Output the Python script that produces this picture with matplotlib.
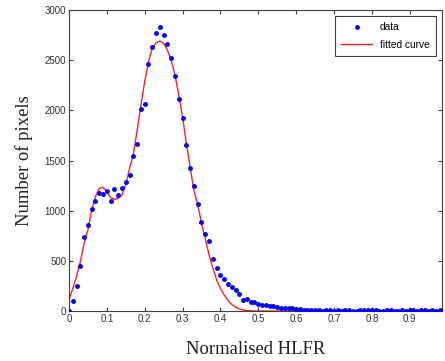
import matplotlib
matplotlib.use("Agg")
import matplotlib.pyplot as plt

# histogram values, bins of 0.01 from 0 to 0.98
hlfr = [i / 100 for i in range(99)]
counts = [0, 95, 250, 445, 740, 860, 1015, 1100, 1180, 1165,
          1200, 1100, 1215, 1160, 1225, 1285, 1355, 1550, 1670, 2010,
          2060, 2465, 2630, 2770, 2835, 2755, 2665, 2525, 2345, 2110,
          1920, 1655, 1430, 1250, 1065, 890, 770, 700, 515, 425,
          360, 320, 265, 235, 210, 170, 110, 120, 93, 93,
          70, 55, 62, 45, 48, 38, 30, 28, 25, 27,
          22, 20, 12, 8, 10, 6, 8, 5, 12, 6,
          4, 8, 3, 6, 10, 5, 4, 7, 12, 8,
          6, 10, 5, 4, 7, 10, 5, 3, 6, 4,
          8, 6, 3, 10, 7, 5, 8, 4, 6]

# fitted curve read at the same positions
fitted = [110, 226, 342, 492, 674, 807, 1007, 1140, 1223, 1233,
          1190, 1133, 1113, 1123, 1156, 1260, 1420, 1560, 1800, 2053,
          2286, 2485, 2618, 2674, 2691, 2668, 2601, 2502, 2352, 2153,
          1937, 1671, 1438, 1200, 1060, 880, 720, 560, 430, 310,
          225, 160, 105, 65, 38, 20, 10, 5, 2, 0] + [0] * 49

xticks = [0, 0.1, 0.2, 0.3, 0.4, 0.5, 0.6, 0.7, 0.8, 0.9]
xticklabels = ["0", "0.1", "0.2", "0.3", "0.4", "0.5", "0.6", "0.7", "0.8", "0.9"]
yticks = [0, 500, 1000, 1500, 2000, 2500, 3000]

fig = plt.figure(figsize=(4.45, 3.61), dpi=100)
ax = fig.add_axes([0.155, 0.1385, 0.838, 0.8335])

ax.plot(hlfr, counts, ".", color="#0000ff", markersize=5, label="data", zorder=3)
ax.plot(hlfr, fitted, "-", color="#ff2020", linewidth=1, label="fitted curve", zorder=2)

ax.set_xlim(0, 0.985)
ax.set_ylim(0, 3000)
ax.set_xticks(xticks)
ax.set_xticklabels(xticklabels)
ax.set_yticks(yticks)
ax.tick_params(direction="in", length=3, width=0.8, top=True, right=True,
               labelsize=7, labelcolor="#303030", colors="#404040", pad=2)
for lab in ax.get_xticklabels() + ax.get_yticklabels():
    lab.set_family("Liberation Sans")
for s in ax.spines.values():
    s.set_color("#404040")
    s.set_linewidth(0.8)

ax.set_xlabel("Normalised HLFR", family="Liberation Serif", fontsize=13.4, color="#202020")
ax.set_ylabel("Number of pixels", family="Liberation Serif", fontsize=13.4, color="#202020")
ax.xaxis.set_label_coords(0.5, -0.10)
ax.yaxis.set_label_coords(-0.097, 0.5)

leg = ax.legend(loc="upper right", prop={"family": "Liberation Sans", "size": 7.3},
                fancybox=False, edgecolor="#404040", framealpha=1, handlelength=3.0,
                borderaxespad=0.6, labelspacing=0.75, borderpad=0.6, numpoints=1)
leg.get_frame().set_linewidth(0.8)

plt.savefig("out.png", dpi=100)
plt.close()
